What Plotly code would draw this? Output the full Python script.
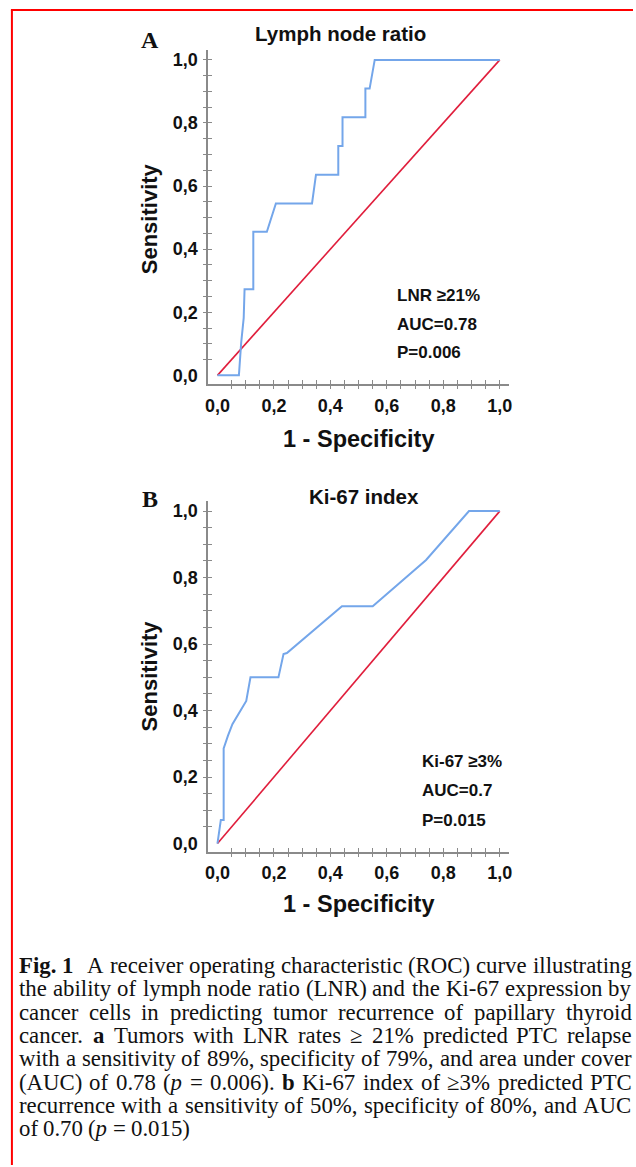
import plotly.graph_objects as go

# ---------------- data ----------------
LNR_FPR = [0.0, 0.076, 0.084, 0.093, 0.096, 0.127, 0.127, 0.175, 0.207, 0.335, 0.349,
           0.428, 0.428, 0.443, 0.443, 0.524, 0.524, 0.539, 0.557, 1.0]
LNR_TPR = [0.0, 0.0, 0.103, 0.182, 0.273, 0.273, 0.455, 0.455, 0.545, 0.545, 0.636,
           0.636, 0.727, 0.727, 0.818, 0.818, 0.909, 0.909, 1.0, 1.0]

KI_FPR = [0.0, 0.012, 0.022, 0.022, 0.037, 0.053, 0.102, 0.117, 0.216, 0.234, 0.246,
          0.441, 0.550, 0.739, 0.891, 1.0]
KI_TPR = [0.0, 0.071, 0.071, 0.286, 0.324, 0.359, 0.429, 0.500, 0.500, 0.570, 0.573,
          0.714, 0.714, 0.853, 1.0, 1.0]

REF_X = [0.0, 1.0]
REF_Y = [0.0, 1.0]

MAJOR_VALS = [0.0, 0.2, 0.4, 0.6, 0.8, 1.0]
MAJOR_TEXT = ["0,0", "0,2", "0,4", "0,6", "0,8", "1,0"]
MINOR_VALS = [round(0.05 * k, 2) for k in range(1, 21)]

PANEL_TITLES = ["Lymph node ratio", "Ki-67 index"]
PANEL_LETTERS = ["A", "B"]
LNR_STATS = ["LNR ≥21%", "AUC=0.78", "P=0.006"]
KI_STATS = ["Ki-67 ≥3%", "AUC=0.7", "P=0.015"]
Y_TITLE = "Sensitivity"
X_TITLE = "1 - Specificity"

CAPTION_LINES = [
    "<b>Fig.</b> <b>1</b>  A receiver operating characteristic (ROC) curve illustrating",
    "the ability of lymph node ratio (LNR) and the Ki-67 expression by",
    "cancer cells in predicting tumor recurrence of papillary thyroid",
    "cancer. <b>a</b> Tumors with LNR rates ≥ 21% predicted PTC relapse",
    "with a sensitivity of 89%, specificity of 79%, and area under cover",
    "(AUC) of 0.78 (<i>p</i> = 0.006). <b>b</b> Ki-67 index of ≥3% predicted PTC",
    "recurrence with a sensitivity of 50%, specificity of 80%, and AUC",
    "of 0.70 (<i>p</i> = 0.015)",
]

# ---------------- layout constants ----------------
W, H = 636, 1167
SANS = "Liberation Sans, Arial, sans-serif"
SERIF = "Liberation Serif, Times New Roman, serif"
BLUE = "#74a6ea"
RED = "#e01e3c"
AXIS_GREY = "#8a8a8a"


def px(x):
    return x / W


def py(y):
    return 1 - y / H


X_DOMAIN = [px(207), px(511)]
X_RANGE = [-0.0333, 1.0333]
PANELS = [
    dict(ydom=[py(385), py(50)], yrange=[-0.0285, 1.0316]),
    dict(ydom=[py(853), py(502)], yrange=[-0.024, 1.030]),
]

fig = go.Figure()

curves = [(LNR_FPR, LNR_TPR), (KI_FPR, KI_TPR)]
for i, (fx, fy) in enumerate(curves):
    xa = "x" if i == 0 else "x2"
    ya = "y" if i == 0 else "y2"
    fig.add_trace(go.Scatter(x=REF_X, y=REF_Y, mode="lines",
                             line=dict(color=RED, width=1.6),
                             xaxis=xa, yaxis=ya, showlegend=False, hoverinfo="skip"))
    fig.add_trace(go.Scatter(x=fx, y=fy, mode="lines",
                             line=dict(color=BLUE, width=2),
                             xaxis=xa, yaxis=ya, showlegend=False, hoverinfo="skip"))

layout = dict(
    width=W, height=H,
    margin=dict(l=0, r=0, t=0, b=0),
    paper_bgcolor="white", plot_bgcolor="rgba(0,0,0,0)",
    showlegend=False,
)

tickfont = dict(family=SANS, size=18, color="#111111", weight="bold")

for i, p in enumerate(PANELS):
    n = i + 1
    xk = "xaxis" if n == 1 else "xaxis%d" % n
    yk = "yaxis" if n == 1 else "yaxis%d" % n
    xn = "x" if n == 1 else "x%d" % n
    yn = "y" if n == 1 else "y%d" % n
    layout[xk] = dict(domain=X_DOMAIN, range=X_RANGE, anchor=yn,
                      tickmode="array", tickvals=MAJOR_VALS, ticktext=MAJOR_TEXT,
                      ticks="", showgrid=False, zeroline=False,
                      showline=True, linecolor=AXIS_GREY, linewidth=1.5,
                      tickfont=tickfont, ticklabelstandoff=4, fixedrange=True)
    layout[yk] = dict(domain=p["ydom"], range=p["yrange"], anchor=xn,
                      tickmode="array", tickvals=MAJOR_VALS, ticktext=MAJOR_TEXT,
                      ticks="", showgrid=False, zeroline=False,
                      showline=True, linecolor=AXIS_GREY, linewidth=1.5,
                      tickfont=tickfont, ticklabelstandoff=5, fixedrange=True)
    # overlay axes that draw tick marks crossing the axis line
    for j, side in enumerate(["outside", "inside"]):
        m = 3 + i + 2 * j
        ox, oy = "x%d" % m, "y%d" % m
        layout["xaxis%d" % m] = dict(overlaying=xn, anchor=oy, range=X_RANGE,
                                     tickmode="array", tickvals=MINOR_VALS,
                                     ticks=side, ticklen=4, tickwidth=1, tickcolor=AXIS_GREY,
                                     showticklabels=False, showgrid=False, zeroline=False,
                                     showline=False, fixedrange=True)
        layout["yaxis%d" % m] = dict(overlaying=yn, anchor=ox, range=p["yrange"],
                                     tickmode="array", tickvals=MINOR_VALS,
                                     ticks=side, ticklen=4, tickwidth=1, tickcolor=AXIS_GREY,
                                     showticklabels=False, showgrid=False, zeroline=False,
                                     showline=False, fixedrange=True)
        fig.add_trace(go.Scatter(x=[], y=[], xaxis=ox, yaxis=oy, showlegend=False,
                                 hoverinfo="skip"))

annotations = []


def ann(text, x, y, size, family=SANS, xanchor="center", yanchor="middle",
        angle=0, weight="bold", color="#111111"):
    annotations.append(dict(text=text, x=px(x), y=py(y), xref="paper", yref="paper",
                            showarrow=False, xanchor=xanchor, yanchor=yanchor,
                            textangle=angle,
                            font=dict(family=family, size=size, color=color,
                                      weight=weight)))


# panel texts
TITLE_POS = [(341, 34), (364, 497)]
LETTER_POS = [(148, 40), (148, 500)]
YTITLE_POS = [(148, 219), (148, 677)]
XTITLE_POS = [(359, 440), (359, 906)]
STATS = [LNR_STATS, KI_STATS]
STATS_POS = [(396, [296, 325, 353]), (421, [763, 792, 822])]

for i in range(2):
    ann(PANEL_TITLES[i], *TITLE_POS[i], size=20.5)
    ann(PANEL_LETTERS[i], *LETTER_POS[i], size=24, family=SERIF)
    ann(Y_TITLE, *YTITLE_POS[i], size=22, angle=-90)
    ann(X_TITLE, *XTITLE_POS[i], size=23.5)
    sx, sys_ = STATS_POS[i]
    for t, yy in zip(STATS[i], sys_):
        ann(t, sx, yy, size=17, xanchor="left")

# ---------------- justified caption ----------------
TIMES = {' ': 250, 'a': 444, 'b': 500, 'c': 444, 'd': 500, 'e': 444, 'f': 333, 'g': 500,
         'h': 500, 'i': 278, 'j': 278, 'k': 500, 'l': 278, 'm': 778, 'n': 500, 'o': 500,
         'p': 500, 'q': 500, 'r': 333, 's': 389, 't': 278, 'u': 500, 'v': 500, 'w': 722,
         'x': 500, 'y': 500, 'z': 444, 'A': 722, 'B': 667, 'C': 667, 'D': 722, 'E': 611,
         'F': 556, 'G': 722, 'H': 722, 'I': 333, 'K': 722, 'L': 611, 'M': 889, 'N': 722,
         'O': 722, 'P': 556, 'R': 667, 'S': 556, 'T': 611, 'U': 722, 'V': 722,
         '(': 333, ')': 333, '.': 250, ',': 250, '-': 333, '=': 564, '%': 833, '≥': 549}
for d in "0123456789":
    TIMES[d] = 500
TIMES_BOLD = {'F': 611, 'i': 278, 'g': 500, '.': 250, '1': 500, 'a': 500, 'b': 556}
TIMES_ITAL = {'p': 500}

CAP_FS = 22.8
CAP_LEFT, CAP_RIGHT = 16, 634
CAP_Y0, CAP_DY = 967, 23.4


def text_width(s):
    w = 0.0
    bold = ital = False
    k = 0
    while k < len(s):
        if s.startswith("<b>", k):
            bold = True; k += 3; continue
        if s.startswith("</b>", k):
            bold = False; k += 4; continue
        if s.startswith("<i>", k):
            ital = True; k += 3; continue
        if s.startswith("</i>", k):
            ital = False; k += 4; continue
        ch = s[k]
        if bold and ch in TIMES_BOLD:
            w += TIMES_BOLD[ch]
        elif ital and ch in TIMES_ITAL:
            w += TIMES_ITAL[ch]
        else:
            w += TIMES.get(ch, 500)
        k += 1
    return w / 1000.0 * CAP_FS


space_w = TIMES[' '] / 1000.0 * CAP_FS
for li, line in enumerate(CAPTION_LINES):
    words = line.split(" ")
    widths = [text_width(wd) for wd in words]
    gaps = len(words) - 1
    last = li == len(CAPTION_LINES) - 1
    gap = space_w if (last or gaps == 0) else (CAP_RIGHT - CAP_LEFT - sum(widths)) / gaps
    x = CAP_LEFT
    yy = CAP_Y0 + li * CAP_DY
    for wd, ww in zip(words, widths):
        if wd:
            annotations.append(dict(text=wd, x=px(x), y=py(yy), xref="paper", yref="paper",
                                    showarrow=False, xanchor="left", yanchor="middle",
                                    borderpad=0, borderwidth=0,
                                    font=dict(family=SERIF, size=CAP_FS, color="#111111")))
        x += ww + gap

layout["annotations"] = annotations

# red frame
layout["shapes"] = [
    dict(type="line", xref="paper", yref="paper", x0=px(9), x1=px(9), y0=0, y1=py(10),
         line=dict(color="#ff0000", width=2)),
    dict(type="line", xref="paper", yref="paper", x0=px(8), x1=1, y0=py(10), y1=py(10),
         line=dict(color="#ff0000", width=2)),
]

fig.update_layout(**layout)
fig.write_html("out.html")
